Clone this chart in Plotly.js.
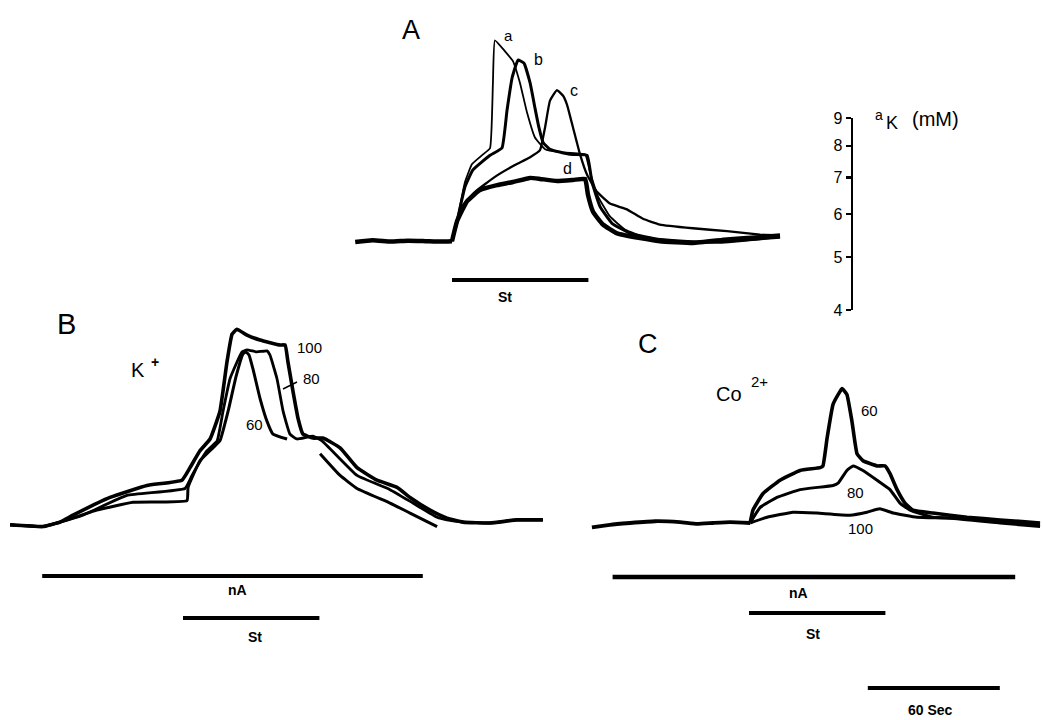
<!DOCTYPE html>
<html>
<head>
<meta charset="utf-8">
<script src="https://cdn.plot.ly/plotly-3.0.1.min.js"></script>
<style>html,body{margin:0;padding:0;background:#fff;}#chart{width:1042px;height:720px;}</style>
</head>
<body>
<div id="chart"></div>
<script>
// ---------------- DATA (time in s, K+ activity aK in mM) ----------------
// Panel A : traces a, b, c, d (t = 0 at start of stimulation)
const tA_base = [-44, -36, -28, -20, -12, -5, 0];
const kA_base = [5.33, 5.37, 5.34, 5.36, 5.35, 5.34, 5.35];
const tA_a = [0,2.3,5.9,9.1,14.1,17.3,18.6,19.5,24.1,27.7,30.9,34.1,37.7,42.3,49.1,60.5,62.7,66.4,71.8,78.6,87.7,103.6,121.8,149.1];
const kA_a = [5.35,5.82,6.87,7.41,7.72,7.93,10.44,12.50,11.93,11.45,10.44,9.21,8.29,7.89,7.79,7.72,7.17,6.46,5.94,5.62,5.44,5.35,5.31,5.44];
const tA_b = [0,2.3,5.9,9.5,17.3,22.7,25.0,27.3,30.0,32.7,35.5,37.7,39.5,41.4,44.5,53.6,61.4,63.6,67.3,72.7,80.9,94.5,112.7,130.9,149.1];
const kA_b = [5.35,5.82,6.73,7.23,7.69,7.93,9.29,10.66,11.50,11.35,10.44,9.40,8.65,8.12,7.89,7.72,7.69,6.87,6.19,5.77,5.53,5.39,5.33,5.37,5.44];
const tA_c = [0,2.3,4.5,10.5,19.5,28.6,35.5,40.0,42.3,44.5,47.7,50.5,52.3,55.0,58.2,61.4,65.9,71.8,79.5,86.8,94.5,109.5,125.0,140.0,149.1];
const kA_c = [5.35,5.77,6.19,6.59,7.02,7.38,7.63,7.86,8.65,9.68,10.13,9.89,9.52,8.65,7.72,7.08,6.59,6.27,6.12,5.88,5.74,5.65,5.58,5.50,5.48];
const tA_d = [0,2.3,6.8,12.7,20.5,27.7,35.5,40.0,47.7,55.0,60.5,61.8,64.1,68.6,75.0,85.5,94.5,109.5,125.0,140.0,149.1];
const kA_d = [5.35,5.82,6.33,6.64,6.78,6.87,6.99,6.96,6.90,6.93,6.96,6.51,6.06,5.74,5.53,5.42,5.35,5.31,5.39,5.44,5.48];

// Panel B : K+ , nA = 100, 80, 60
const tB_100 = [-78.6,-63.6,-55.9,-50.0,-33.2,-16.4,-0.5,3.2,7.7,12.3,16.8,20.0,22.3,24.5,29.1,35.0,44.1,46.4,47.7,50.0,52.3,54.5,59.1,63.6,71.4,79.1,88.2,97.3,103.2,112.3,120.0,127.3,139.5,151.8,163.6];
const kB_100 = [5.31,5.27,5.37,5.53,5.96,6.27,6.41,6.76,7.26,7.63,8.58,10.57,11.88,12.13,11.83,11.59,11.35,11.35,10.57,9.33,8.32,7.79,7.66,7.66,7.35,6.76,6.41,6.22,5.96,5.65,5.46,5.37,5.35,5.42,5.42];
const tB_80 = [-78.6,-63.6,-55.9,-45.5,-25.5,0.9,4.1,10.9,15.5,18.2,21.4,26.8,29.1,33.6,38.2,39.5,42.7,45.5,48.6,51.8,59.1,63.2,79.1,94.1,104.5,115.5,120.0,127.3,139.5,151.8,163.6];
const kB_80 = [5.31,5.27,5.37,5.53,6.01,6.19,6.54,7.26,7.57,8.58,9.85,11.02,11.12,11.02,11.07,10.88,9.85,8.58,7.79,7.63,7.72,7.57,6.54,6.16,5.82,5.48,5.42,5.37,5.35,5.42,5.42];
const tB_60 = [-78.6,-63.6,-55.9,-39.1,-22.7,1.8,2.3,7.7,13.6,16.8,20.5,24.1,27.3,28.6,30.0,31.8,35.0,38.2,40.9,47.3,null,62.3,71.4,79.1,94.1,103.2,115.5];
const kB_60 = [5.31,5.27,5.37,5.65,5.84,5.88,6.22,6.96,7.35,7.57,8.58,9.93,10.93,11.02,10.88,10.26,9.06,8.22,7.79,7.63,null,7.17,6.54,6.19,5.82,5.58,5.27];

// Panel C : Co2+ , 60, 80, 100
const tC_base = [-71.4,-63.2,-54.1,-42.7,-31.4,-23.6,-16.4,-8.6,0.5];
const kC_base = [5.25,5.31,5.35,5.39,5.37,5.33,5.35,5.37,5.35];
const tC_60 = [0.5,1.8,6.4,14.1,23.2,32.3,33.6,35.5,38.2,41.4,42.3,44.5,46.8,49.1,51.8,58.2,61.8,64.1,67.3,70.9,74.5,83.6,99.1,114.1,132.3];
const kC_60 = [5.35,5.65,6.06,6.41,6.68,6.76,6.81,7.66,8.83,9.33,9.44,9.21,8.22,7.17,6.96,6.81,6.81,6.59,6.16,5.82,5.65,5.58,5.48,5.42,5.35];
const tC_80 = [0.5,5.0,12.7,23.2,38.2,40.5,44.5,47.3,51.8,58.2,64.1,68.6,73.2,83.6,99.1,114.1,132.3];
const kC_80 = [5.35,5.71,5.96,6.16,6.27,6.33,6.68,6.81,6.68,6.41,6.16,5.82,5.65,5.48,5.46,5.37,5.31];
const tC_100 = [0.5,8.2,20.0,30.9,45.9,53.6,59.5,65.5,76.4,91.4,114.1,132.3];
const kC_100 = [5.35,5.48,5.60,5.58,5.53,5.60,5.68,5.58,5.48,5.46,5.35,5.27];

// Time bars (s)
const stimA = [0, 62];
const nA_B = [-64, 109];
const stimB = [0, 62];
const nA_C = [-62, 121];
const stimC = [0, 62];
const scaleSec = [54, 114];

// Calibration axis
const calTicks = [4, 5, 6, 7, 8, 9];
const calLabels = ['4', '5', '6', '7', '8', '9'];

// ---------------- LAYOUT HELPERS ----------------
const W = 1042, H = 720, PXS = 2.2, PXD = 545;
function xAx(px0, px1, origin) {
  return {domain: [px0 / W, px1 / W], range: [(px0 - origin) / PXS, (px1 - origin) / PXS],
          visible: false, fixedrange: true};
}
function yAx(pyTop, pyBot, pyRef, vRef) {
  const L = Math.log10(vRef);
  return {type: 'log', domain: [1 - pyBot / H, 1 - pyTop / H],
          range: [L - (pyBot - pyRef) / PXD, L + (pyRef - pyTop) / PXD],
          visible: false, fixedrange: true};
}
const px = v => v / W, py = v => 1 - v / H;

function tr(x, y, xa, ya, w) {
  return {x: x, y: y, xaxis: xa, yaxis: ya, type: 'scatter', mode: 'lines',
          line: {color: '#000', width: w, shape: 'spline', smoothing: 0.35},
          hoverinfo: 'skip', showlegend: false};
}

const data = [
  tr(tA_base, kA_base, 'x', 'y', 4.5),
  tr(tA_a, kA_a, 'x', 'y', 1.8),
  tr(tA_b, kA_b, 'x', 'y', 3),
  tr(tA_c, kA_c, 'x', 'y', 2.3),
  tr(tA_d, kA_d, 'x', 'y', 4.5),
  tr(tB_100, kB_100, 'x2', 'y2', 3.6),
  tr(tB_80, kB_80, 'x2', 'y2', 2.8),
  tr(tB_60, kB_60, 'x2', 'y2', 3),
  tr(tC_base, kC_base, 'x3', 'y3', 3.8),
  tr(tC_60, kC_60, 'x3', 'y3', 3.6),
  tr(tC_80, kC_80, 'x3', 'y3', 3),
  tr(tC_100, kC_100, 'x3', 'y3', 3),
  {x: [0, 0], y: [calTicks[0], calTicks[calTicks.length - 1]], xaxis: 'x4', yaxis: 'y4',
   type: 'scatter', mode: 'lines', line: {width: 0, color: 'rgba(0,0,0,0)'}, hoverinfo: 'skip', showlegend: false}
];

function bar(xref, r, yPx, w) {
  return {type: 'line', xref: xref, yref: 'paper', x0: r[0], x1: r[1], y0: py(yPx), y1: py(yPx),
          line: {color: '#000', width: w}};
}

const FONT = 'Liberation Sans, Arial, sans-serif';
function ann(text, xPx, yPx, size, bold) {
  return {text: bold ? '<b>' + text + '</b>' : text, xref: 'paper', yref: 'paper',
          x: px(xPx), y: py(yPx), xanchor: 'center', yanchor: 'middle', showarrow: false,
          font: {family: FONT, size: size, color: '#000'}};
}

const layout = {
  width: W, height: H,
  margin: {l: 0, r: 0, t: 0, b: 0, pad: 0},
  paper_bgcolor: '#fff', plot_bgcolor: 'rgba(0,0,0,0)',
  showlegend: false,
  xaxis: xAx(330, 800, 452),
  yaxis: yAx(15, 300, 310, 4),
  xaxis2: xAx(0, 570, 183),
  yaxis2: yAx(305, 560, 523, 5.35),
  xaxis3: xAx(580, 1042, 749),
  yaxis3: yAx(305, 560, 523, 5.35),
  xaxis4: {domain: [853 / W, 858 / W], range: [0, 1], visible: false, fixedrange: true},
  yaxis4: {type: 'log', domain: [1 - 310 / H, 1 - 118 / H],
           range: [Math.log10(calTicks[0]), Math.log10(calTicks[calTicks.length - 1])],
           anchor: 'x4', side: 'left', showline: true, linecolor: '#000', linewidth: 2.5,
           ticks: 'outside', ticklen: 5, tickwidth: 2.5, tickcolor: '#000',
           tickvals: calTicks, ticktext: calLabels, showgrid: false, zeroline: false,
           tickfont: {family: FONT, size: 16, color: '#000'}, fixedrange: true},
  shapes: [
    bar('x', stimA, 280, 4),
    bar('x2', nA_B, 576, 4),
    bar('x2', stimB, 618, 4),
    bar('x3', nA_C, 577, 4.5),
    bar('x3', stimC, 613, 4),
    bar('x3', scaleSec, 688, 4),
    {type: 'line', xref: 'paper', yref: 'paper', x0: px(283), y0: py(389), x1: px(297), y1: py(382),
     line: {color: '#000', width: 1.5}}
  ],
  annotations: [
    ann('A', 411, 30, 27, false),
    ann('a', 508, 35, 15, false),
    ann('b', 538, 59, 16, false),
    ann('c', 574, 90, 16, false),
    ann('d', 567, 168, 16, false),
    ann('St', 505, 297, 14, true),
    ann('a', 879, 115, 14, false),
    ann('K', 892, 123, 18, false),
    ann('(mM)', 935, 119, 20, false),
    ann('B', 66, 324, 29, false),
    ann('K', 138, 370, 20, false),
    ann('+', 155, 362, 14, true),
    ann('100', 309, 347, 15, false),
    ann('80', 311, 378, 15, false),
    ann('60', 254, 424, 15, false),
    ann('nA', 237, 590, 14, true),
    ann('St', 255, 637, 14, true),
    ann('C', 648, 344, 27, false),
    ann('Co', 729, 394, 20, false),
    ann('2+', 759, 381, 15, false),
    ann('60', 869, 410, 15, false),
    ann('80', 855, 492, 15, false),
    ann('100', 860, 528, 15, false),
    ann('nA', 798, 593, 14, true),
    ann('St', 813, 634, 14, true),
    ann('60 Sec', 930, 710, 14, true)
  ]
};

Plotly.newPlot('chart', data, layout, {staticPlot: true, displayModeBar: false});
</script>
</body>
</html>
